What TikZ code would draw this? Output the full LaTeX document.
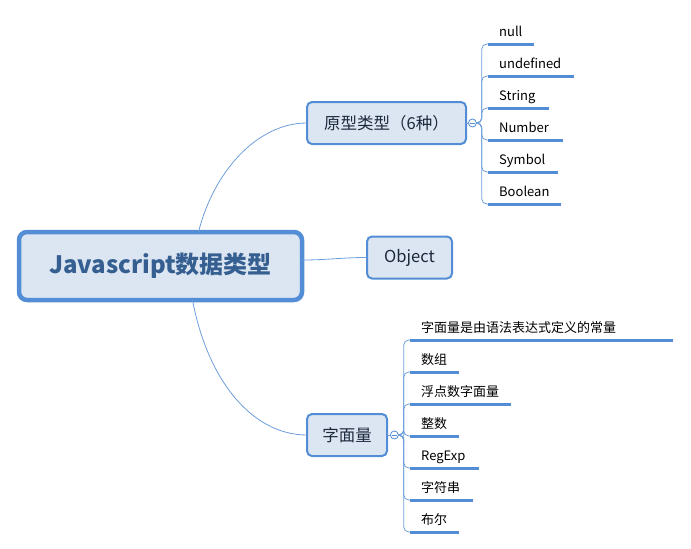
\documentclass[tikz,border=0pt]{standalone}
\usepackage{fontspec}
\setmainfont{Noto Sans CJK SC}
\usetikzlibrary{positioning}
\definecolor{mapblue}{RGB}{83,141,213}
\definecolor{mapfill}{RGB}{220,230,242}
\definecolor{maptext}{RGB}{54,95,145}
\definecolor{boxtext}{RGB}{30,40,60}

\tikzset{
  topic/.style={draw=mapblue, fill=mapfill, line width=4.5pt, rounded corners=8pt,
    minimum width=283pt, minimum height=68pt, outer sep=0pt,
    font=\fontsize{24}{28}\selectfont\bfseries, text=maptext},
  subtopic/.style={draw=mapblue, fill=mapfill, line width=2pt, rounded corners=5pt,
    minimum height=42pt, outer sep=0pt, font=\fontsize{16.5}{20}\selectfont, text=boxtext},
  fold/.style={circle, draw=mapblue, fill=white, line width=0.8pt, minimum size=8pt, inner sep=0pt},
  leaf/.style={anchor=south west, inner xsep=11pt, inner ysep=0pt, text depth=7pt,
    align=left, font=\fontsize{13}{15}\selectfont, text=black},
  underline/.style={draw=mapblue, line width=3pt},
  branch/.style={draw=mapblue!85, line width=0.8pt},
}

\begin{document}
\begin{tikzpicture}[x=1pt, y=-1pt]
\useasboundingbox (0,0) rectangle (691,549);

\node[topic] (js) at (160.5,266) {Javascript数据类型};
\node[subtopic, minimum width=159pt] (proto) at (386.5,123) {原型类型（6种）};
\node[subtopic, minimum width=85pt] (obj) at (409.5,257.5) {Object};
\node[subtopic, minimum width=80pt] (lit) at (347,435) {字面量};

% main branches
\draw[branch] ([xshift=38pt]js.north) .. controls +(15,-60) and +(-50,0) .. (proto.west);
\draw[branch] ([yshift=6pt]js.east) to[out=0, in=180] (obj.west);
\draw[branch] ([xshift=32pt]js.south) .. controls +(15,80) and +(-55,0) .. (lit.west);

% fold markers
\node[fold, right=2pt of proto] (pfold) {};
\node[fold, right=3pt of lit] (lfold) {};
\draw[branch] (proto.east) -- (pfold.west);
\draw[branch] (lit.east) -- (lfold.west);
\draw[mapblue, line width=0.8pt] ([xshift=2pt]pfold.west) -- ([xshift=-2pt]pfold.east);
\draw[mapblue, line width=0.8pt] ([xshift=2pt]lfold.west) -- ([xshift=-2pt]lfold.east);

\foreach \name/\txt/\y/\tw in {pnull/null/44/24, pundef/undefined/76/64,
    pstr/String/108/39, pnum/Number/140/53, psym/Symbol/172/48, pbool/Boolean/204/51} {
  \node[leaf, text width=\tw pt] (\name) at (488,\y) {\txt};
  \draw[underline] (\name.south west) -- (\name.south east);
  \draw[branch, rounded corners=5pt] (pfold.east) -- ++(5,0) |- (\name.south west);
}

\foreach \name/\txt/\y/\tw in {ldef/字面量是由语法表达式定义的常量/340/241, larr/数组/372/27,
    lfloat/浮点数字面量/404/79, lint/整数/436/27, lreg/RegExp/468/47,
    lstr/字符串/500/41, lbool/布尔/532/27} {
  \node[leaf, text width=\tw pt] (\name) at (410,\y) {\txt};
  \draw[underline] (\name.south west) -- (\name.south east);
  \draw[branch, rounded corners=5pt] (lfold.east) -- ++(5,0) |- (\name.south west);
}

\end{tikzpicture}
\end{document}
